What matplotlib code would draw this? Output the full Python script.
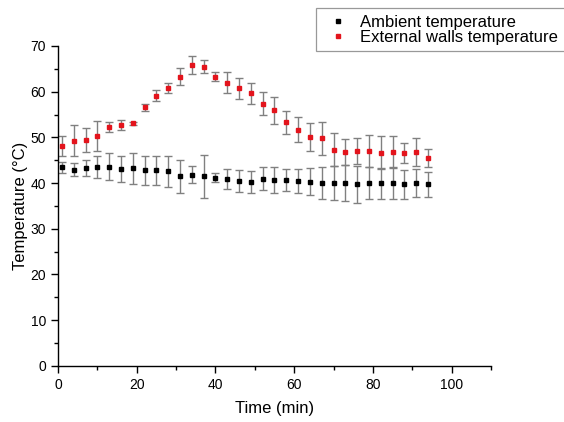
import matplotlib
matplotlib.use("Agg")
import matplotlib.pyplot as plt
from matplotlib.ticker import MultipleLocator
from matplotlib.lines import Line2D

plt.rcParams['font.family'] = ['Liberation Sans', 'DejaVu Sans']

time_min = [1, 4, 7, 10, 13, 16, 19, 22, 25, 28, 31, 34, 37, 40, 43, 46,
            49, 52, 55, 58, 61, 64, 67, 70, 73, 76, 79, 82, 85, 88, 91, 94]

ambient = [43.4, 42.9, 43.3, 43.5, 43.6, 43.1, 43.2, 42.8, 42.8, 42.6, 41.5, 41.8,
           41.5, 41.2, 40.8, 40.4, 40.3, 40.9, 40.7, 40.6, 40.5, 40.3, 40.0, 40.0,
           40.0, 39.7, 40.1, 39.9, 39.9, 39.7, 40.0, 39.7]
ambient_err = [1.3, 1.4, 1.8, 2.4, 2.9, 2.8, 3.4, 3.2, 3.2, 3.4, 3.6, 1.9,
               4.7, 1.0, 2.2, 2.4, 2.4, 2.5, 2.9, 2.4, 2.6, 3.0, 3.5, 3.7,
               3.9, 4.0, 3.5, 3.4, 3.3, 3.1, 3.1, 2.8]

walls = [48.1, 49.3, 49.5, 50.3, 52.3, 52.8, 53.1, 56.6, 59.1, 60.7, 63.3, 65.8,
         65.5, 63.3, 62.0, 60.7, 59.6, 57.4, 55.9, 53.3, 51.7, 50.1, 49.8, 47.3,
         46.8, 47.0, 47.0, 46.6, 46.8, 46.5, 46.8, 45.5]
walls_err = [2.1, 3.4, 2.6, 3.2, 1.1, 1.1, 0.3, 0.8, 1.2, 1.1, 1.8, 2.0,
             1.4, 1.0, 2.2, 2.4, 2.4, 2.5, 2.9, 2.5, 2.7, 3.0, 3.6, 3.6,
             2.8, 2.8, 3.6, 3.6, 3.4, 2.2, 3.0, 1.9]

labels = ['Ambient temperature', 'External walls temperature']
colors = ['black', '#e3141c']

fig = plt.figure(figsize=(5.64, 4.22), dpi=100)
ax = fig.add_axes([0.1028, 0.1334, 0.7678, 0.7576])

ebkw = dict(fmt='s', markersize=3.4, ecolor='#808080', elinewidth=1.0,
            capsize=3, capthick=1.0, linestyle='none')
ax.errorbar(time_min, ambient, yerr=ambient_err, color=colors[0], mec=colors[0], **ebkw)
ax.errorbar(time_min, walls, yerr=walls_err, color=colors[1], mec=colors[1], **ebkw)

ax.set_xlim(0, 110)
ax.set_ylim(0, 70)
ax.xaxis.set_major_locator(MultipleLocator(20))
ax.xaxis.set_minor_locator(MultipleLocator(10))
ax.yaxis.set_major_locator(MultipleLocator(10))
ax.yaxis.set_minor_locator(MultipleLocator(5))
ax.spines['top'].set_visible(False)
ax.spines['right'].set_visible(False)
for s in ('left', 'bottom'):
    ax.spines[s].set_linewidth(1.0)
ax.tick_params(which='major', direction='out', length=5, width=1.0, labelsize=10)
ax.tick_params(which='minor', direction='out', length=2.8, width=1.0)

ax.set_xlabel('Time (min)', fontsize=12, labelpad=7)
ax.set_ylabel('Temperature (°C)', fontsize=12, labelpad=1.5)

h2 = [Line2D([], [], marker='s', linestyle='none', color=c, markersize=2.5)
      for c in colors]
leg = fig.legend(h2, labels, loc='upper left', bbox_to_anchor=(316/564, 1 - 8/422),
                 frameon=True, fancybox=False, fontsize=12, borderpad=0.4,
                 handlelength=1.8, handletextpad=0.45, labelspacing=0.0,
                 borderaxespad=0)
leg.get_frame().set_edgecolor('#808080')
leg.get_frame().set_linewidth(0.9)

fig.savefig('out.png', dpi=100)
